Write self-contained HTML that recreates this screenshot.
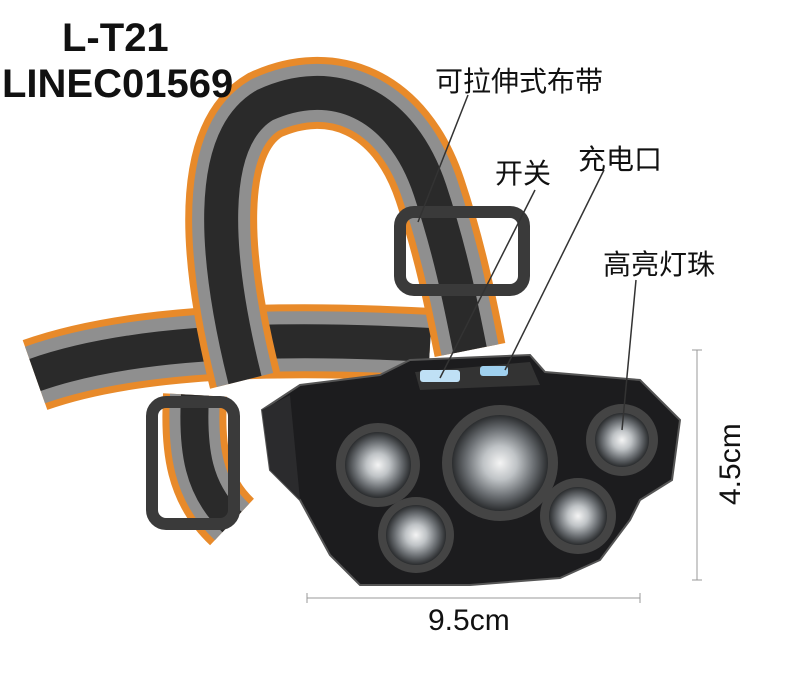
<!DOCTYPE html>
<html><head><meta charset="utf-8">
<style>
html,body{margin:0;padding:0;background:#fff;}
body{width:800px;height:674px;overflow:hidden;position:relative;font-family:"Liberation Sans","Noto Sans CJK SC",sans-serif;}
.t{position:absolute;color:#111;white-space:nowrap;}
</style></head><body>
<svg width="800" height="674" style="position:absolute;left:0;top:0">
  <defs>
    <radialGradient id="lens" cx="50%" cy="50%" r="50%">
      <stop offset="0" stop-color="#f4f4f4"/><stop offset="0.35" stop-color="#bfc3c6"/>
      <stop offset="0.7" stop-color="#6c7074"/><stop offset="1" stop-color="#2a2c2e"/>
    </radialGradient>
  </defs>
  <path d="M35 375 C120 345, 250 335, 430 345" stroke="#e88a2a" stroke-width="74" fill="none"/>
  <path d="M35 375 C120 345, 250 335, 430 345" stroke="#8f8f8f" stroke-width="60" fill="none"/>
  <path d="M35 375 C120 345, 250 335, 430 345" stroke="#2a2a2a" stroke-width="34" fill="none"/>
  <path d="M195 395 C192 450, 198 490, 232 522" stroke="#e88a2a" stroke-width="64" fill="none"/>
  <path d="M195 395 C192 450, 198 490, 232 522" stroke="#8f8f8f" stroke-width="50" fill="none"/>
  <path d="M195 395 C192 450, 198 490, 232 522" stroke="#2a2a2a" stroke-width="28" fill="none"/>
  <path d="M245 380 C215 260, 205 140, 265 105 C330 75, 400 100, 430 190 C450 250, 460 300, 470 350" stroke="#e88a2a" stroke-width="72" fill="none"/>
  <path d="M245 380 C215 260, 205 140, 265 105 C330 75, 400 100, 430 190 C450 250, 460 300, 470 350" stroke="#8f8f8f" stroke-width="58" fill="none"/>
  <path d="M245 380 C215 260, 205 140, 265 105 C330 75, 400 100, 430 190 C450 250, 460 300, 470 350" stroke="#2a2a2a" stroke-width="34" fill="none"/>
  <rect x="400" y="212" width="124" height="78" rx="14" fill="none" stroke="#3a3a3a" stroke-width="12"/>
  <rect x="152" y="402" width="82" height="122" rx="14" fill="none" stroke="#3a3a3a" stroke-width="12"/>
  <polygon points="262,410 300,385 380,375 410,360 530,355 545,372 640,380 680,420 672,480 640,500 630,520 600,560 560,578 470,585 360,585 330,555 300,500 270,470" fill="#1c1c1e" stroke="#555" stroke-width="2"/>
  <polygon points="262,410 290,395 300,500 270,470" fill="#2b2b2d"/>
  <polygon points="415,372 530,362 540,385 420,390" fill="#333"/>
  <rect x="420" y="370" width="40" height="12" rx="3" fill="#bfe0f5"/>
  <rect x="480" y="366" width="28" height="10" rx="3" fill="#9fd0ef"/>
  <circle cx="500" cy="463" r="58" fill="#444"/><circle cx="500" cy="463" r="48" fill="url(#lens)"/>
  <circle cx="378" cy="465" r="42" fill="#444"/><circle cx="378" cy="465" r="33" fill="url(#lens)"/>
  <circle cx="416" cy="535" r="38" fill="#444"/><circle cx="416" cy="535" r="30" fill="url(#lens)"/>
  <circle cx="622" cy="440" r="36" fill="#444"/><circle cx="622" cy="440" r="27" fill="url(#lens)"/>
  <circle cx="578" cy="516" r="38" fill="#444"/><circle cx="578" cy="516" r="29" fill="url(#lens)"/>
  <line x1="468" y1="95" x2="418" y2="222" stroke="#333" stroke-width="1.5"/>
  <line x1="535" y1="190" x2="440" y2="378" stroke="#333" stroke-width="1.5"/>
  <line x1="604" y1="170" x2="505" y2="370" stroke="#333" stroke-width="1.5"/>
  <line x1="636" y1="280" x2="622" y2="430" stroke="#333" stroke-width="1.5"/>
  <line x1="697" y1="350" x2="697" y2="580" stroke="#999" stroke-width="1"/>
  <line x1="692" y1="350" x2="702" y2="350" stroke="#999"/>
  <line x1="692" y1="580" x2="702" y2="580" stroke="#999"/>
  <line x1="307" y1="598" x2="640" y2="598" stroke="#999" stroke-width="1"/>
  <line x1="307" y1="593" x2="307" y2="603" stroke="#999"/>
  <line x1="640" y1="593" x2="640" y2="603" stroke="#999"/>
  <text x="0" y="0" transform="translate(740,505) rotate(-90)" font-family="Liberation Sans,sans-serif" font-size="30" fill="#111">4.5cm</text>
</svg>
<div class="t" style="left:62px;top:16px;font-size:40px;font-weight:bold;">L-T21</div>
<div class="t" style="left:2px;top:62px;font-size:40px;font-weight:bold;">LINEC01569</div>
<div class="t" style="left:435px;top:60px;font-size:28px;">可拉伸式布带</div>
<div class="t" style="left:495px;top:152px;font-size:28px;">开关</div>
<div class="t" style="left:578px;top:138px;font-size:28px;">充电口</div>
<div class="t" style="left:603px;top:243px;font-size:28px;">高亮灯珠</div>
<div class="t" style="left:428px;top:604px;font-size:30px;">9.5cm</div>
</body></html>
